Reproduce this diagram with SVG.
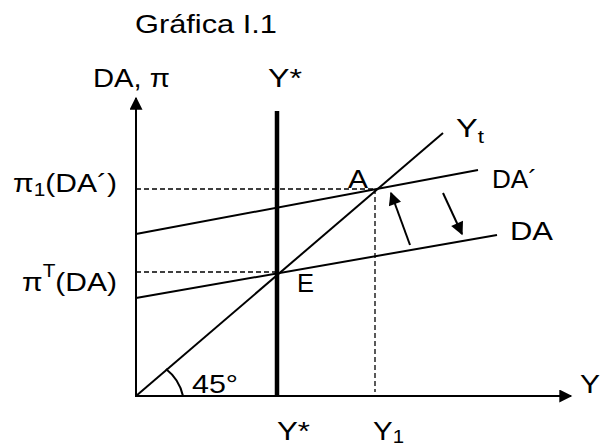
<svg xmlns="http://www.w3.org/2000/svg" width="602" height="446" viewBox="0 0 602 446">
<style>
text{font-family:"Liberation Sans",Arial,sans-serif;font-size:26px;fill:#000}
.ln{stroke:#000;stroke-width:2;fill:none}
.dash{stroke:#000;stroke-width:1.3;stroke-dasharray:5,3;fill:none}
.sm{font-size:18px}
</style>
<defs>
<marker id="ah" viewBox="0 0 10 10" refX="9" refY="5" markerWidth="16" markerHeight="13" markerUnits="userSpaceOnUse" orient="auto">
<path d="M0,0 L10,5 L0,10 z" fill="#000"/>
</marker>
<marker id="ax" viewBox="0 0 10 10" refX="9" refY="5" markerWidth="16" markerHeight="13" markerUnits="userSpaceOnUse" orient="auto">
<path d="M0,0 L10,5 L0,10 z" fill="#000"/>
</marker>
</defs>
<text id="title" x="135" y="33" textLength="142" lengthAdjust="spacingAndGlyphs">Gráfica I.1</text>
<g id="connectors">
<line id="yaxis" class="ln" x1="136" y1="396" x2="136" y2="98" marker-end="url(#ax)"/>
<line id="xaxis" class="ln" x1="135" y1="396" x2="571" y2="396" marker-end="url(#ax)"/>
<line id="ystar" x1="277" y1="111" x2="277" y2="396" stroke="#000" stroke-width="4.5"/>
<line id="yt" class="ln" x1="136" y1="396" x2="443" y2="133"/>
<line id="daprime" class="ln" x1="136" y1="234" x2="478" y2="170"/>
<line id="da" class="ln" x1="136" y1="298" x2="497" y2="235"/>
<line class="dash" x1="136" y1="189" x2="375" y2="189"/>
<line class="dash" x1="136" y1="272" x2="277" y2="272"/>
<line class="dash" x1="375" y1="189" x2="375" y2="392"/>
<path class="ln" d="M183,396 A47,47 0 0 0 166,369"/>
<line class="ln" x1="410" y1="245" x2="391" y2="193" stroke-width="2.5" marker-end="url(#ah)"/>
<line class="ln" x1="443" y1="193" x2="462" y2="234" stroke-width="2.5" marker-end="url(#ah)"/>
</g>
<g id="labels">
<text x="93" y="87" textLength="77" lengthAdjust="spacingAndGlyphs">DA, π</text>
<text x="268" y="87" textLength="34" lengthAdjust="spacingAndGlyphs">Y*</text>
<text x="13" y="192" textLength="104" lengthAdjust="spacingAndGlyphs">π<tspan class="sm" dy="4">1</tspan><tspan dy="-4">(DA´)</tspan></text>
<text x="22" y="291" textLength="95" lengthAdjust="spacingAndGlyphs">π<tspan class="sm" dy="-14">T</tspan><tspan dy="14">(DA)</tspan></text>
<text id="A" x="348" y="188" textLength="20" lengthAdjust="spacingAndGlyphs">A</text>
<text id="E" x="297" y="292" textLength="17" lengthAdjust="spacingAndGlyphs">E</text>
<text x="456" y="137" textLength="28" lengthAdjust="spacingAndGlyphs">Y<tspan class="sm" dy="6">t</tspan></text>
<text x="492" y="188" textLength="45" lengthAdjust="spacingAndGlyphs">DA´</text>
<text x="510" y="240" textLength="43" lengthAdjust="spacingAndGlyphs">DA</text>
<text x="192" y="393" textLength="46" lengthAdjust="spacingAndGlyphs">45°</text>
<text x="580" y="393" textLength="20" lengthAdjust="spacingAndGlyphs">Y</text>
<text x="277" y="440" textLength="33" lengthAdjust="spacingAndGlyphs">Y*</text>
<text x="373" y="440" textLength="31" lengthAdjust="spacingAndGlyphs">Y<tspan class="sm" dy="3">1</tspan></text>
</g>
</svg>
